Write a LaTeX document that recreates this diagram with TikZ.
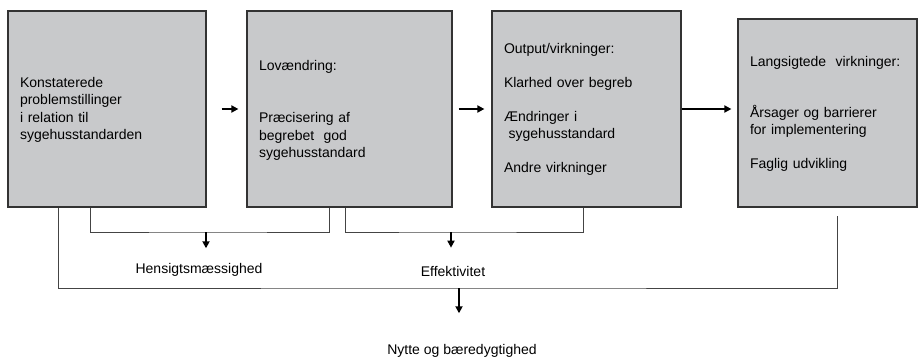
\documentclass[tikz,border=0pt]{standalone}
\usepackage{fontspec}
\setmainfont{Liberation Sans}
\usetikzlibrary{arrows.meta}
\begin{document}
\begin{tikzpicture}[x=1pt,y=-1pt,
  box/.style={draw=boxline, line width=1.2pt, fill=boxgray, align=left, inner xsep=12pt, inner ysep=0pt, font=\fontsize{14}{17.3}\selectfont},
  lbl/.style={font=\fontsize{14}{17}\selectfont, inner sep=0pt},
  link/.style={draw=linegray, line width=0.9pt},
  flow/.style={draw, line width=1.8pt, -{Triangle[length=7pt,width=7pt]}}]
\definecolor{boxgray}{RGB}{200,201,203}
\definecolor{boxline}{RGB}{51,51,51}
\definecolor{linegray}{RGB}{68,68,68}
\useasboundingbox (0,0) rectangle (921,359);

\node[box, text width=174pt, minimum height=196pt] (b1) at (107,109) {\rule{0pt}{12pt}Konstaterede\\problemstillinger\\i relation til\\sygehusstandarden};
\node[box, text width=181pt, minimum height=196pt] (b2) at (349.5,109) {\rule{0pt}{13.5pt}Lovændring:\\[34.7pt]Præcisering af\\begrebet\ \ god\\sygehusstandard};
\node[box, text width=165pt, minimum height=196pt] (b3) at (586.5,109) {\rule{0pt}{11.6pt}Output/virkninger:\\[16.5pt]Klarhed over begreb\\[16.5pt]Ændringer i\\\ sygehusstandard\\[16.5pt]Andre virkninger};
\node[box, text width=155pt, minimum height=188pt] (b4) at (827.5,113) {\rule{0pt}{11.9pt}Langsigtede~~virkninger:\\[33.7pt]Årsager og barrierer\\for implementering\\[16.7pt]Faglig udvikling};

\node[lbl] (hens) at (199,270) {Hensigtsmæssighed};
\node[lbl] (effekt) at (453,271) {Effektivitet};
\node[lbl] (nytte) at (462,351) {Nytte og bæredygtighed};

\coordinate (hj) at (206,232);
\coordinate (ej) at (451,232);
\coordinate (nj) at (459,288);

\path[flow, shorten <=15pt, shorten >=8pt] (b1) -- (b2);
\path[flow, shorten <=6pt, shorten >=7pt] (b2) -- (b3);
\path[flow, shorten >=6pt] (b3.east) -- (b3.east -| b4.west);

\path[link] ([xshift=-17pt]b1.south) |- (hj) -| ([xshift=-20.5pt]b2.south);
\path[link] ([xshift=-4.5pt]b2.south) |- (ej) -| ([xshift=-3.5pt]b3.south);
\path[link] ([xshift=-49pt]b1.south) |- (nj) -| ([xshift=9.5pt,yshift=-8pt]b4.south);

\path[flow, shorten >=15pt] (hj) -- (hj |- hens.north);
\path[flow, shorten >=18pt] (ej) -- (ej |- effekt.north);
\path[flow, shorten >=31pt] (nj) -- (nj |- nytte.north);
\end{tikzpicture}
\end{document}
